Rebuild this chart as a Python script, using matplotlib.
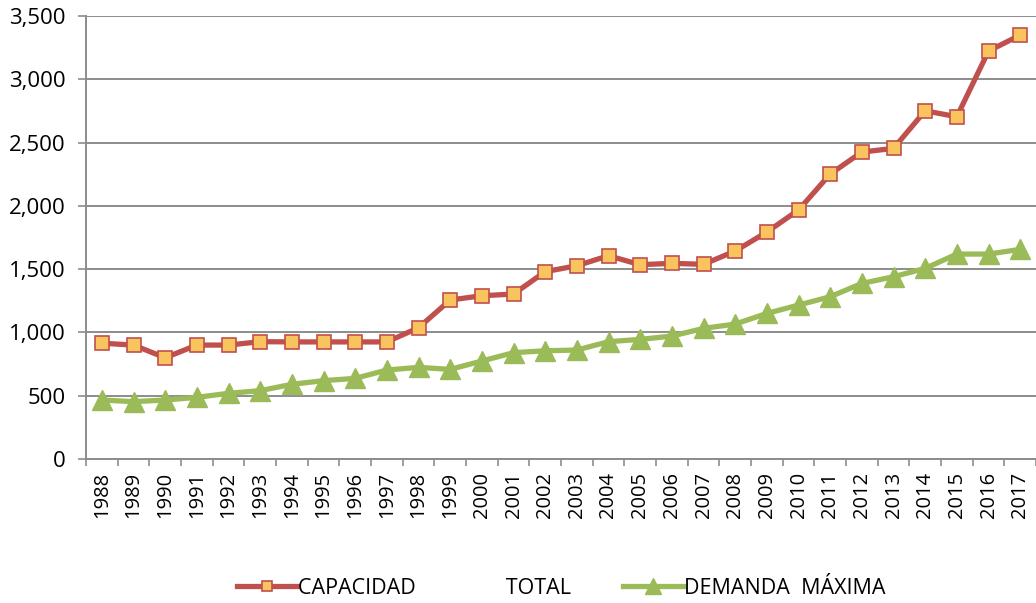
import numpy as np
import matplotlib
matplotlib.use('Agg')
import matplotlib.pyplot as plt
from matplotlib.ticker import FuncFormatter

# data
years = [str(y) for y in range(1988, 2018)]
capacidad = [915, 900, 800, 900, 900, 927, 925, 925, 925, 925,
             1037, 1256, 1290, 1303, 1480, 1527, 1606, 1535, 1546, 1538,
             1643, 1793, 1967, 2251, 2425, 2454, 2751, 2704, 3223, 3349]
demanda = [466, 453, 466, 487, 519, 540, 590, 619, 637, 703,
           724, 708, 774, 840, 855, 861, 927, 945, 971, 1032,
           1066, 1150, 1216, 1282, 1387, 1440, 1506, 1619, 1619, 1656]

plt.rcParams['font.family'] = ['Open Sans', 'DejaVu Sans']

fig = plt.figure(figsize=(10.36, 6.03), dpi=100)
ax = fig.add_axes([86 / 1036, 1 - 459 / 603, 950 / 1036, 443 / 603])

x = np.arange(len(years))
grid_c = '#8c8c8c'

ax.plot(x, capacidad, color='#C0504D', lw=3.8, marker='s', ms=9.5,
        mfc='#F9C35E', mec='#C0504D', mew=1.2, zorder=3,
        label='CAPACIDAD                TOTAL')
ax.plot(x, demanda, color='#9BBB59', lw=3.8, marker='^', ms=15,
        mfc='#9BBB59', mec='#9BBB59', zorder=3,
        label='DEMANDA  MÁXIMA')

ax.set_xlim(-0.5, len(years) - 0.5)
ax.set_ylim(0, 3500)
ax.set_yticks(np.arange(0, 3501, 500))
ax.yaxis.set_major_formatter(FuncFormatter(lambda v, p: f'{int(v):,}'))
ax.yaxis.grid(True, color=grid_c, lw=1.4)
ax.set_axisbelow(True)

# labels at category centres, tick marks between categories
ax.set_xticks(x)
ax.set_xticklabels(years, rotation=90, fontsize=14.5)
ax.tick_params(axis='x', length=0, pad=9)
ax.set_xticks(np.arange(-0.5, len(years), 1), minor=True)
ax.tick_params(axis='x', which='minor', length=5, color=grid_c, width=1.2)
ax.tick_params(axis='y', length=5.5, color=grid_c, width=1.2, labelsize=16, pad=9)

for s in ['top', 'right']:
    ax.spines[s].set_visible(False)
for s in ['left', 'bottom']:
    ax.spines[s].set_color(grid_c)
    ax.spines[s].set_linewidth(1.4)

fig.legend(loc='center', bbox_to_anchor=(0.542, 1 - 588 / 603), ncol=2,
           frameon=False, fontsize=15.5, handlelength=2.8, columnspacing=2.4,
           handletextpad=0.05, markerscale=0.75)

fig.savefig('out.png', dpi=100)
